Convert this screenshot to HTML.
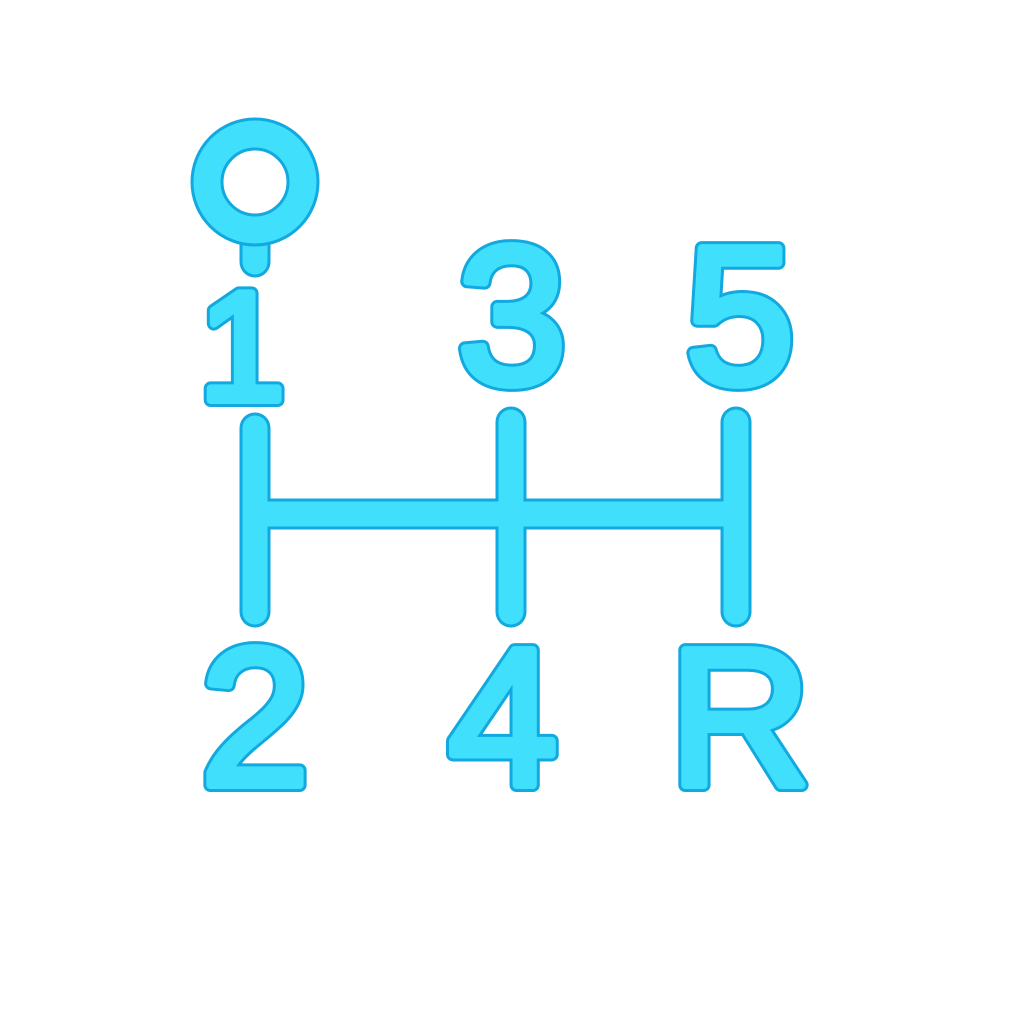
<!DOCTYPE html>
<html><head><style>html,body{margin:0;padding:0;background:#fff}svg{display:block}</style></head>
<body>
<svg width="1024" height="1024" viewBox="0 0 1024 1024" xmlns="http://www.w3.org/2000/svg">
<g stroke-linecap="round" stroke-linejoin="round" fill="none">
  <g stroke="#12a8e0" stroke-width="31">
    <line x1="255" y1="428" x2="255" y2="612"/>
    <line x1="511" y1="422" x2="511" y2="612"/>
    <line x1="736" y1="422" x2="736" y2="612"/>
    <line x1="255" y1="514" x2="736" y2="514"/>
    <line x1="255" y1="235" x2="255" y2="262"/>
  </g>
  <g stroke="#40e0fd" stroke-width="25">
    <line x1="255" y1="428" x2="255" y2="612"/>
    <line x1="511" y1="422" x2="511" y2="612"/>
    <line x1="736" y1="422" x2="736" y2="612"/>
    <line x1="255" y1="514" x2="736" y2="514"/>
    <line x1="255" y1="235" x2="255" y2="262"/>
  </g>
  <circle cx="255" cy="182" r="48" stroke="#12a8e0" stroke-width="33"/>
  <circle cx="255" cy="182" r="48" stroke="#40e0fd" stroke-width="27"/>
</g>
<g font-family="Liberation Sans, sans-serif" text-anchor="middle" stroke-linejoin="round" stroke-linecap="round">
  <g fill="#12a8e0" stroke="#12a8e0" stroke-width="14">
    <text x="242" y="400" font-size="155">1</text>
    <text x="512" y="383" font-size="196">3</text>
    <text x="740" y="383" font-size="196">5</text>
    <text x="255" y="785" font-size="196">2</text>
    <text x="503" y="785" font-size="196">4</text>
    <text x="740" y="785" font-size="196">R</text>
  </g>
  <g fill="#40e0fd" stroke="#40e0fd" stroke-width="8">
    <text x="242" y="400" font-size="155">1</text>
    <text x="512" y="383" font-size="196">3</text>
    <text x="740" y="383" font-size="196">5</text>
    <text x="255" y="785" font-size="196">2</text>
    <text x="503" y="785" font-size="196">4</text>
    <text x="740" y="785" font-size="196">R</text>
  </g>
</g>
</svg>
</body></html>
